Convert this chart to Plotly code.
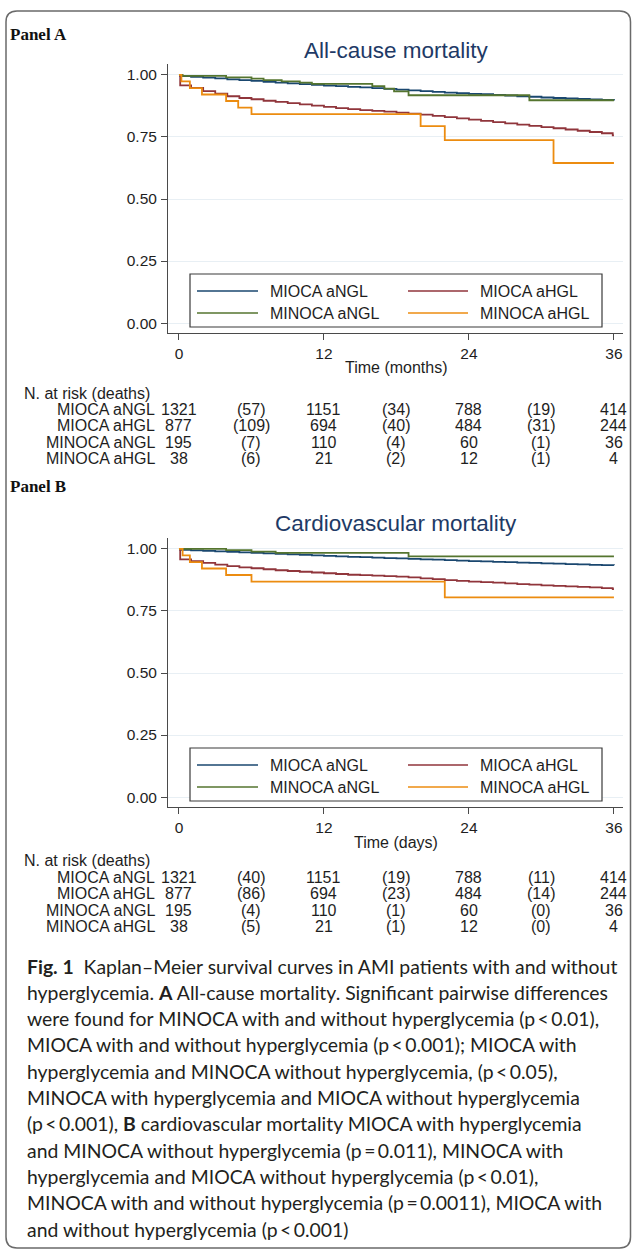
import plotly.graph_objects as go

W, H = 632, 1253


def px(x):
    return x / W


def py(y):
    return 1 - y / H


SERIES = ["MIOCA aNGL", "MIOCA aHGL", "MINOCA aNGL", "MINOCA aHGL"]
COLORS = ["#1a476f", "#90353b", "#55752f", "#ec8c10"]

# ---------------- Panel A: all-cause mortality (months) ----------------
a_mioca_angl_t = [0, 0.1, 1, 2, 3, 4, 5, 6, 7, 8, 9, 10, 11, 12, 13, 14, 15, 16, 17, 18,
                  19, 20, 21, 22, 23, 24, 25, 26, 27, 28, 29, 30, 31, 32, 33, 34, 35, 36]
a_mioca_angl_s = [1.0, 0.995, 0.992, 0.989, 0.986, 0.982, 0.979, 0.976, 0.972, 0.969, 0.966,
                  0.963, 0.960, 0.957, 0.955, 0.952, 0.950, 0.947, 0.944, 0.941, 0.938, 0.935,
                  0.932, 0.929, 0.927, 0.924, 0.922, 0.919, 0.917, 0.914, 0.912, 0.909, 0.907,
                  0.905, 0.903, 0.901, 0.899, 0.897]
a_mioca_ahgl_t = [0, 0.1, 1, 2, 3, 4, 5, 6, 7, 8, 9, 10, 11, 12, 13, 14, 15, 16, 17, 18,
                  19, 20, 21, 22, 23, 24, 25, 26, 27, 28, 29, 30, 31, 32, 33, 34, 35, 35.9, 36]
a_mioca_ahgl_s = [1.0, 0.958, 0.948, 0.935, 0.925, 0.914, 0.907, 0.902, 0.896, 0.891, 0.886,
                  0.881, 0.876, 0.871, 0.866, 0.862, 0.858, 0.855, 0.852, 0.848, 0.844, 0.840,
                  0.835, 0.830, 0.825, 0.820, 0.815, 0.810, 0.805, 0.800, 0.795, 0.790, 0.785,
                  0.780, 0.775, 0.770, 0.765, 0.756, 0.756]
a_minoca_angl_t = [0, 0.3, 3.9, 6.0, 7.0, 8.5, 10.0, 11.0, 16.0, 17.0, 17.8, 19.0, 29.0, 36.0]
a_minoca_angl_s = [1.0, 0.996, 0.990, 0.985, 0.979, 0.974, 0.969, 0.964, 0.955, 0.945, 0.934,
                   0.918, 0.898, 0.898]
a_minoca_ahgl_t = [0, 0.2, 0.9, 1.9, 3.9, 4.9, 6.0, 20.0, 22.0, 31.0, 36.0]
a_minoca_ahgl_s = [1.0, 0.974, 0.947, 0.921, 0.895, 0.868, 0.842, 0.794, 0.737, 0.645, 0.645]

# ---------------- Panel B: cardiovascular mortality ----------------
b_mioca_angl_t = [0, 0.1, 1, 2, 3, 4, 5, 6, 7, 8, 9, 10, 11, 12, 13, 14, 15, 16, 17, 18,
                  19, 20, 21, 22, 23, 24, 25, 26, 27, 28, 29, 30, 31, 32, 33, 34, 35, 36]
b_mioca_angl_s = [1.0, 0.996, 0.994, 0.992, 0.990, 0.988, 0.986, 0.984, 0.982, 0.980, 0.978,
                  0.976, 0.974, 0.972, 0.970, 0.968, 0.967, 0.965, 0.963, 0.962, 0.960, 0.958,
                  0.957, 0.955, 0.953, 0.951, 0.950, 0.948, 0.947, 0.945, 0.944, 0.942, 0.941,
                  0.939, 0.938, 0.936, 0.935, 0.934]
b_mioca_ahgl_t = [0, 0.1, 1, 2, 3, 4, 5, 6, 7, 8, 9, 10, 11, 12, 13, 14, 15, 16, 17, 18,
                  19, 20, 21, 22, 23, 24, 25, 26, 27, 28, 29, 30, 31, 32, 33, 34, 35, 35.9, 36]
b_mioca_ahgl_s = [1.0, 0.958, 0.951, 0.944, 0.937, 0.931, 0.926, 0.922, 0.918, 0.914, 0.911,
                  0.908, 0.905, 0.902, 0.899, 0.896, 0.894, 0.892, 0.890, 0.888, 0.885, 0.881,
                  0.878, 0.874, 0.871, 0.868, 0.866, 0.864, 0.861, 0.858, 0.856, 0.853, 0.851,
                  0.849, 0.847, 0.845, 0.842, 0.838, 0.838]
b_minoca_angl_t = [0, 3.9, 6.0, 8.0, 19.0, 36.0]
b_minoca_angl_s = [1.0, 0.995, 0.989, 0.984, 0.970, 0.970]
b_minoca_ahgl_t = [0, 0.3, 0.9, 1.9, 3.9, 6.0, 22.0, 36.0]
b_minoca_ahgl_s = [1.0, 0.974, 0.947, 0.921, 0.895, 0.868, 0.805, 0.805]

# ---------------- Risk tables ----------------
risk_times = [0, 12, 24, 36]
death_times = [6, 18, 30]
a_at_risk = [[1321, 1151, 788, 414], [877, 694, 484, 244], [195, 110, 60, 36], [38, 21, 12, 4]]
a_deaths = [[57, 34, 19], [109, 40, 31], [7, 4, 1], [6, 2, 1]]
b_at_risk = [[1321, 1151, 788, 414], [877, 694, 484, 244], [195, 110, 60, 36], [38, 21, 12, 4]]
b_deaths = [[40, 19, 11], [86, 23, 14], [4, 1, 0], [5, 1, 0]]

x_ticks = [0, 12, 24, 36]
y_ticks = [0, 0.25, 0.5, 0.75, 1.0]

caption_lines = [
    "<b>Fig. 1</b>\u00a0\u00a0Kaplan\u2013Meier survival curves in AMI patients with and without",
    "hyperglycemia. <b>A</b> All-cause mortality. Significant pairwise differences",
    "were found for MINOCA with and without hyperglycemia (p\u2009<\u20090.01),",
    "MIOCA with and without hyperglycemia (p\u2009<\u20090.001); MIOCA with",
    "hyperglycemia and MINOCA without hyperglycemia, (p\u2009<\u20090.05),",
    "MINOCA with hyperglycemia and MIOCA without hyperglycemia",
    "(p\u2009<\u20090.001), <b>B</b> cardiovascular mortality MIOCA with hyperglycemia",
    "and MINOCA without hyperglycemia (p\u2009=\u20090.011), MINOCA with",
    "hyperglycemia and MIOCA without hyperglycemia (p\u2009<\u20090.01),",
    "MINOCA with and without hyperglycemia (p\u2009=\u20090.0011), MIOCA with",
    "and without hyperglycemia (p\u2009<\u20090.001)",
]

FONT = "Liberation Sans, Arial, sans-serif"
CAP_FONT = "Lato, Noto Sans, sans-serif"
TXT = "#1e1e1e"
AXC = "#4a4a4a"
TITLE_C = "#1e3a66"

panels = [
    dict(xa="x", ya="y", key="", dy=0, title="All-cause mortality", xtitle="Time (months)",
         label="Panel A", label_y=34, xtitle_y=368, nrisk_y=393, row_y=[409, 425.5, 442, 458.5],
         curves=[(a_mioca_angl_t, a_mioca_angl_s), (a_mioca_ahgl_t, a_mioca_ahgl_s),
                 (a_minoca_angl_t, a_minoca_angl_s), (a_minoca_ahgl_t, a_minoca_ahgl_s)],
         at_risk=a_at_risk, deaths=a_deaths),
    dict(xa="x2", ya="y2", key="2", dy=474, title="Cardiovascular mortality", xtitle="Time (days)",
         label="Panel B", label_y=486, xtitle_y=842, nrisk_y=860, row_y=[877, 893.5, 910, 926.5],
         curves=[(b_mioca_angl_t, b_mioca_angl_s), (b_mioca_ahgl_t, b_mioca_ahgl_s),
                 (b_minoca_angl_t, b_minoca_angl_s), (b_minoca_ahgl_t, b_minoca_ahgl_s)],
         at_risk=b_at_risk, deaths=b_deaths),
]

fig = go.Figure()
annotations = []
shapes = []

PLOT_L, PLOT_R = 168, 623

for p in panels:
    dy = p["dy"]
    for i, (t, s) in enumerate(p["curves"]):
        fig.add_trace(go.Scatter(
            x=t, y=s, mode="lines", line=dict(color=COLORS[i], width=1.8, shape="hv"),
            name=SERIES[i], showlegend=False, xaxis=p["xa"], yaxis=p["ya"],
        ))
    top, bottom = 64 + dy, 333 + dy
    axis_common = dict(ticks="outside", ticklen=6, tickwidth=1, tickcolor=AXC,
                       showline=True, linecolor=AXC, linewidth=1, zeroline=False,
                       tickfont=dict(family=FONT, size=15.5, color=TXT))
    fig.layout["xaxis" + p["key"]] = dict(
        domain=[px(PLOT_L), px(PLOT_R)], range=[-0.91, 36.75], tickvals=x_ticks,
        showgrid=False, anchor=p["ya"], ticklabelstandoff=0, **axis_common)
    fig.layout["yaxis" + p["key"]] = dict(
        domain=[py(bottom), py(top)], range=[-0.040, 1.044], tickvals=y_ticks,
        tickformat=".2f", showgrid=True, gridcolor="#e8eff4", gridwidth=1,
        anchor=p["xa"], ticklabelstandoff=1, **axis_common)

    # panel label and title
    annotations.append(dict(text="<b>" + p["label"] + "</b>", x=px(8), y=py(p["label_y"]),
                            xref="paper", yref="paper", xanchor="left", yanchor="middle",
                            showarrow=False,
                            font=dict(family="Liberation Serif, Times New Roman, serif",
                                      size=17, color="#111")))
    annotations.append(dict(text=p["title"], x=px(396), y=py(50 + dy), xref="paper",
                            yref="paper", xanchor="center", yanchor="middle", showarrow=False,
                            font=dict(family=FONT, size=22.5, color=TITLE_C)))
    annotations.append(dict(text=p["xtitle"], x=px(396), y=py(p["xtitle_y"]), xref="paper",
                            yref="paper", xanchor="center", yanchor="middle", showarrow=False,
                            font=dict(family=FONT, size=16, color=TXT)))

    # legend box
    shapes.append(dict(type="rect", xref="paper", yref="paper", x0=px(190), x1=px(602),
                       y0=py(327 + dy), y1=py(274 + dy),
                       line=dict(color="#3a3a3a", width=1.2), fillcolor="white", layer="above"))
    for i, name in enumerate(SERIES):
        col, row = i % 2, i // 2
        lx0 = [197, 408][col]
        lx1 = [258, 468][col]
        tx = [268, 478][col]
        yy = [291, 313][row] + dy
        shapes.append(dict(type="line", xref="paper", yref="paper", x0=px(lx0), x1=px(lx1),
                           y0=py(yy), y1=py(yy), line=dict(color=COLORS[i], width=1.6),
                           layer="above"))
        annotations.append(dict(text=name, x=px(tx), y=py(yy), xref="paper", yref="paper",
                                xanchor="left", yanchor="middle", showarrow=False,
                                font=dict(family=FONT, size=16, color=TXT)))

    # risk table
    annotations.append(dict(text="N. at risk (deaths)", x=px(22), y=py(p["nrisk_y"]),
                            xref="paper", yref="paper", xanchor="left", yanchor="middle",
                            showarrow=False, font=dict(family=FONT, size=16, color=TXT)))
    for i, name in enumerate(SERIES):
        yy = py(p["row_y"][i])
        annotations.append(dict(text=name, x=px(157), y=yy, xref="paper", yref="paper",
                                xanchor="right", yanchor="middle", showarrow=False,
                                font=dict(family=FONT, size=16, color=TXT)))
        for t, n in zip(risk_times, p["at_risk"][i]):
            annotations.append(dict(text=str(n), x=t, y=yy, xref=p["xa"], yref="paper",
                                    xanchor="center", yanchor="middle", showarrow=False,
                                    font=dict(family=FONT, size=16, color=TXT)))
        for t, d in zip(death_times, p["deaths"][i]):
            annotations.append(dict(text="(" + str(d) + ")", x=t, y=yy, xref=p["xa"],
                                    yref="paper", xanchor="center", yanchor="middle",
                                    showarrow=False, font=dict(family=FONT, size=16, color=TXT)))

# caption, one line per text
for k, line in enumerate(caption_lines):
    annotations.append(dict(text=line, x=px(26), y=py(966 + 26.3 * k), xref="paper",
                            yref="paper", xanchor="left", yanchor="middle", showarrow=False,
                            borderpad=0,
                            font=dict(family=CAP_FONT, size=19.4, color="#231f20")))

# outer rounded border
x0, x1 = px(6), px(630.5)
y0, y1 = py(11), py(1248)
rx, ry = 11 / W, 11 / H
path = (f"M {x0 + rx},{y0} L {x1 - rx},{y0} Q {x1},{y0} {x1},{y0 - ry} "
        f"L {x1},{y1 + ry} Q {x1},{y1} {x1 - rx},{y1} L {x0 + rx},{y1} "
        f"Q {x0},{y1} {x0},{y1 + ry} L {x0},{y0 - ry} Q {x0},{y0} {x0 + rx},{y0} Z")
shapes.append(dict(type="path", path=path, xref="paper", yref="paper",
                   line=dict(color="#6a6a6a", width=1.5)))

fig.update_layout(
    width=W, height=H, autosize=False,
    margin=dict(l=0, r=0, t=0, b=0),
    paper_bgcolor="white", plot_bgcolor="white",
    showlegend=False,
    annotations=annotations, shapes=shapes,
)

fig.write_html(
    "out.html",
    config={"displayModeBar": False},
    post_script=("document.body.style.margin='0';document.body.style.padding='0';"
                 "document.documentElement.style.overflow='hidden';"),
)
